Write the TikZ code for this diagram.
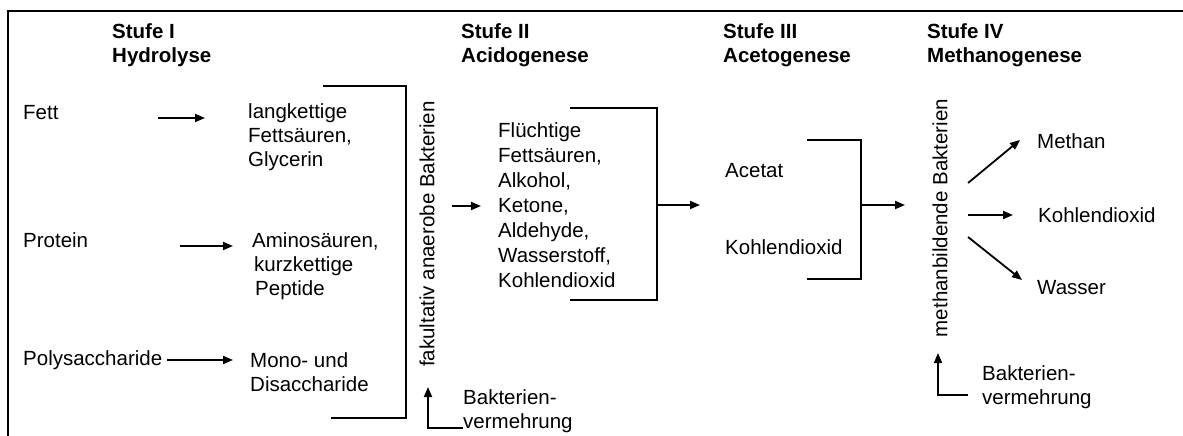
\documentclass[tikz,border=0pt]{standalone}
\usepackage{fontspec}
\setmainfont{Liberation Sans}
\usetikzlibrary{arrows.meta}
\tikzset{
  txt/.style={font=\fontsize{20.5}{24}\selectfont, inner sep=0pt, anchor=west, align=left},
  ttl/.style={txt, font=\fontsize{20.5}{24}\selectfont\bfseries},
  conn/.style={line width=1.8pt},
  arr/.style={conn, -{Triangle[length=10pt,width=8pt]}},
  frame/.style={line width=2.4pt},
}
\begin{document}
\begin{tikzpicture}[x=1pt,y=-1pt]
\useasboundingbox (0,0) rectangle (1183,436);
% frame
\coordinate (fr1) at (8,436);
\coordinate (fr2) at (8,11);
\coordinate (fr3) at (1183,11);
\draw[frame] (fr1) -- (fr2) -- (fr3);
% titles
\node[ttl] (t1) at (112,45) {Stufe I\\Hydrolyse};
\node[ttl] (t2) at (461,45) {Stufe II\\Acidogenese};
\node[ttl] (t3) at (723,45) {Stufe III\\Acetogenese};
\node[ttl] (t4) at (927,45) {Stufe IV\\Methanogenese};
% stage I
\node[txt] (fett) at (23,113) {Fett};
\node[txt] (prot) at (23,240) {Protein};
\node[txt] (poly) at (23,360) {Polysaccharide};
\node[txt] (lang) at (248,137) {langkettige\\Fetts\"auren,\\Glycerin};
\node[txt] (amino) at (252,266) {Aminos\"auren,\\\hspace{2pt}kurzkettige\\\hspace{3pt}Peptide};
\node[txt] (mono) at (250,372) {Mono- und\\Disaccharide};
\coordinate (a1s) at (158,118); \coordinate (a1e) at (205,118);
\coordinate (a2s) at (180,246); \coordinate (a2e) at (233,246);
\coordinate (a3s) at (167,360); \coordinate (a3e) at (233,360);
\draw[arr] (a1s) -- (a1e);
\draw[arr] (a2s) -- (a2e);
\draw[arr] (a3s) -- (a3e);
% bracket 1
\coordinate (b1a) at (323,86); \coordinate (b1b) at (406,86);
\coordinate (b1c) at (406,418); \coordinate (b1d) at (331,418);
\draw[conn] (b1a) -- (b1b) -- (b1c) -- (b1d);
\node[txt, anchor=center, rotate=90] (fak) at (427,234) {fakultativ anaerobe Bakterien};
% bacteria growth left
\node[txt] (bv1) at (463,411) {Bakterien-\\vermehrung};
\coordinate (l1a) at (463,428); \coordinate (l1b) at (428,428); \coordinate (l1c) at (428,387);
\draw[arr] (l1a) -- (l1b) -- (l1c);
% stage II
\coordinate (a4s) at (452,206); \coordinate (a4e) at (481,206);
\draw[arr] (a4s) -- (a4e);
\node[txt, font=\fontsize{20.5}{25}\selectfont] (flue) at (498,205) {Fl\"uchtige\\Fetts\"auren,\\Alkohol,\\Ketone,\\Aldehyde,\\Wasserstoff,\\Kohlendioxid};
\coordinate (b2a) at (570,108); \coordinate (b2b) at (657,108);
\coordinate (b2c) at (657,300); \coordinate (b2d) at (570,300);
\draw[conn] (b2a) -- (b2b) -- (b2c) -- (b2d);
\coordinate (a5s) at (657,205); \coordinate (a5e) at (700,205);
\draw[arr] (a5s) -- (a5e);
% stage III
\node[txt] (acet) at (725,171) {Acetat};
\node[txt] (co2a) at (725,247) {Kohlendioxid};
\coordinate (b3a) at (807,140); \coordinate (b3b) at (861,140);
\coordinate (b3c) at (861,279); \coordinate (b3d) at (807,279);
\draw[conn] (b3a) -- (b3b) -- (b3c) -- (b3d);
\coordinate (a6s) at (861,205); \coordinate (a6e) at (905,205);
\draw[arr] (a6s) -- (a6e);
% stage IV
\node[txt, anchor=center, rotate=90] (meth) at (940,218) {methanbildende Bakterien};
\node[txt] (methan) at (1037,141) {Methan};
\node[txt] (co2b) at (1038,215) {Kohlendioxid};
\node[txt] (wass) at (1037,288) {Wasser};
\coordinate (a7s) at (968,183); \coordinate (a7e) at (1020,140);
\coordinate (a8s) at (968,215); \coordinate (a8e) at (1013,215);
\coordinate (a9s) at (968,237); \coordinate (a9e) at (1022,280);
\draw[arr] (a7s) -- (a7e);
\draw[arr] (a8s) -- (a8e);
\draw[arr] (a9s) -- (a9e);
% bacteria growth right
\node[txt] (bv2) at (982,387) {Bakterien-\\vermehrung};
\coordinate (l2a) at (968,395); \coordinate (l2b) at (938,395); \coordinate (l2c) at (938,353);
\draw[arr] (l2a) -- (l2b) -- (l2c);
\end{tikzpicture}
\end{document}
